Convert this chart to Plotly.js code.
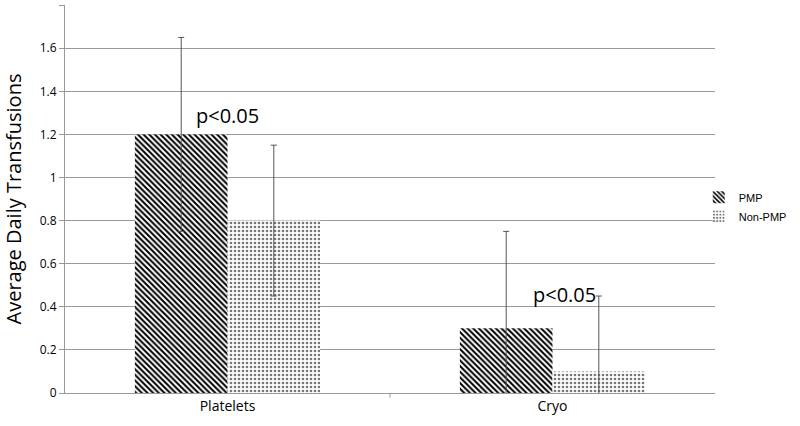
<!DOCTYPE html>
<html>
<head>
<meta charset="utf-8">
<script src="https://cdn.plot.ly/plotly-3.0.1.min.js"></script>
<style>html,body{margin:0;padding:0;background:#fff;}#chart{width:800px;height:426px;}</style>
</head>
<body>
<div id="chart"></div>
<script>
const categories = ["Platelets", "Cryo"];
const seriesNames = ["PMP", "Non-PMP"];
const pmpValues = [1.2, 0.3];
const pmpErrors = [0.45, 0.45];
const nonPmpValues = [0.8, 0.1];
const nonPmpErrors = [0.35, 0.35];
const yTicks = [0, 0.2, 0.4, 0.6, 0.8, 1, 1.2, 1.4, 1.6, 1.8];
const annotationTexts = ["p<0.05", "p<0.05"];
const annotationY = [1.29, 0.455];

const errStyle = {type: 'data', visible: true, color: '#555', thickness: 1, width: 3};

const traces = [
  {
    type: 'bar', name: seriesNames[0], x: categories, y: pmpValues,
    error_y: Object.assign({array: pmpErrors}, errStyle),
    marker: {color: '#ffffff', line: {width: 0},
      pattern: {shape: '\\', fgcolor: '#000000', bgcolor: '#ffffff', size: 4, solidity: 0.5}}
  },
  {
    type: 'bar', name: seriesNames[1], x: categories, y: nonPmpValues,
    error_y: Object.assign({array: nonPmpErrors}, errStyle),
    marker: {color: '#ffffff', line: {width: 0},
      pattern: {shape: '.', fgcolor: '#777777', bgcolor: '#ffffff', size: 4, solidity: 0.35}}
  }
];

const layout = {
  width: 800, height: 426,
  margin: {l: 65, r: 85, t: 5, b: 33, autoexpand: false},
  paper_bgcolor: '#ffffff', plot_bgcolor: '#ffffff',
  barmode: 'group', bargap: 0.43, bargroupgap: 0,
  font: {family: '"Open Sans", "Noto Sans", sans-serif', color: '#000'},
  xaxis: {
    showgrid: false, showline: true, linecolor: '#999', linewidth: 1,
    tickfont: {size: 14, color: '#000'}, ticks: '', zeroline: false
  },
  yaxis: {
    range: [0, 1.8005], tickvals: yTicks, ticktext: yTicks.map(String),
    showgrid: true, gridcolor: '#999', gridwidth: 1,
    showline: true, linecolor: '#999', linewidth: 1,
    ticks: 'outside', ticklen: 5, tickcolor: '#999',
    tickfont: {size: 12, color: '#000'}, zeroline: false,
    title: {text: 'Average Daily Transfusions', font: {size: 20, color: '#000'}, standoff: 14}
  },
  legend: {x: 0.975, y: 0.48, xanchor: 'left', yanchor: 'middle',
    bgcolor: 'rgba(0,0,0,0)',
    font: {size: 11, color: '#000', family: '"Liberation Sans", Arial, sans-serif'},
    itemwidth: 30, tracegroupgap: 6},
  showlegend: true,
  annotations: [
    {x: categories[0], y: annotationY[0], xref: 'x', yref: 'y', text: annotationTexts[0],
     showarrow: false, xshift: 0, font: {size: 20, color: '#000'}, xanchor: 'center'},
    {x: categories[1], y: annotationY[1], xref: 'x', yref: 'y', text: annotationTexts[1],
     showarrow: false, xshift: 12, font: {size: 20, color: '#000'}, xanchor: 'center'}
  ],
  shapes: [
    {type: 'line', xref: 'paper', yref: 'paper', x0: 0.5, x1: 0.5, y0: 0, y1: -0.012,
     line: {color: '#999', width: 1}}
  ]
};

Plotly.newPlot('chart', traces, layout, {displayModeBar: false, staticPlot: true});
</script>
</body>
</html>
